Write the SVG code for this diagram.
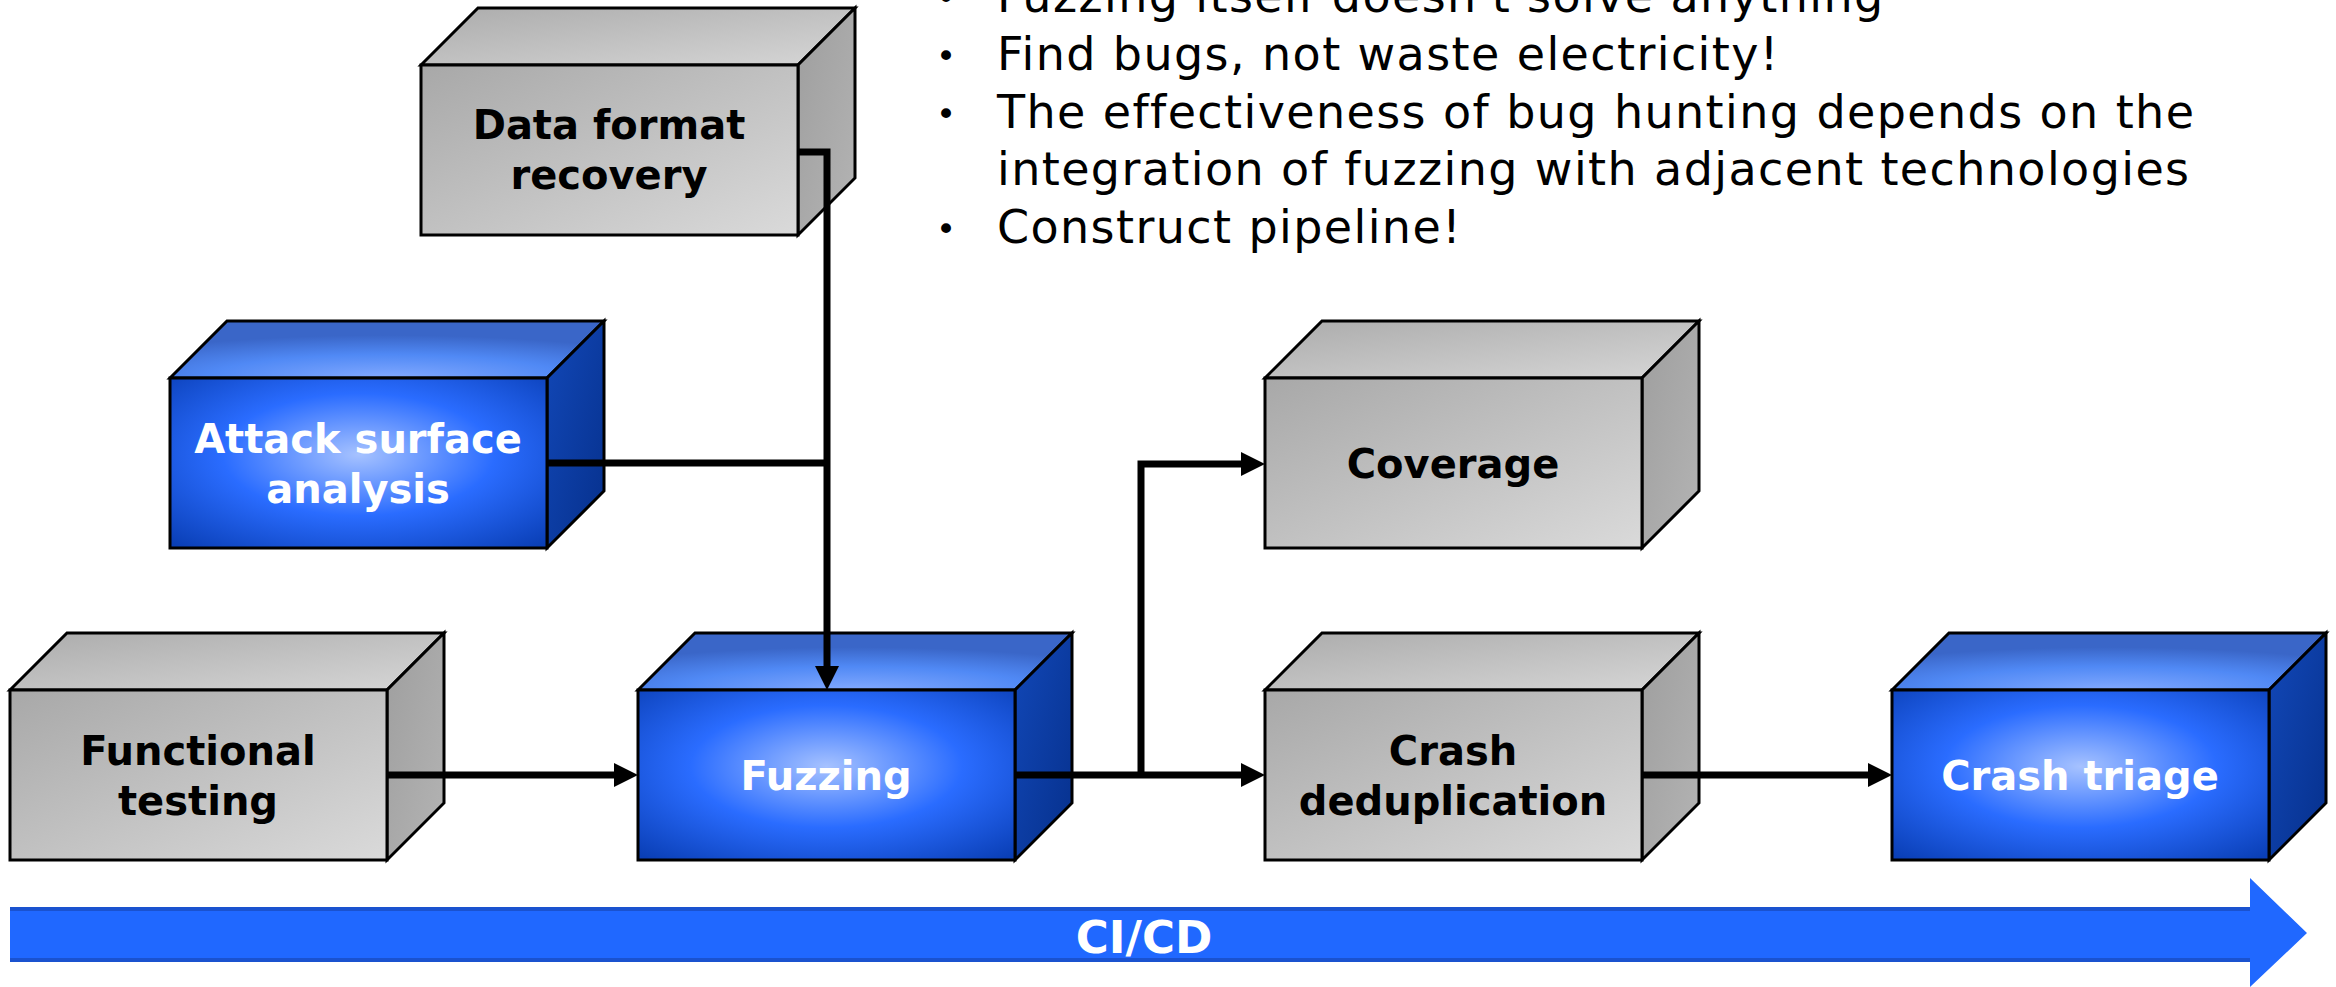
<svg xmlns="http://www.w3.org/2000/svg" width="2336" height="987" viewBox="0 0 2336 987">
<defs>
<linearGradient id="gFront" x1="0" y1="0" x2="1" y2="1"><stop offset="0" stop-color="#a8a8a8"/><stop offset="1" stop-color="#dadada"/></linearGradient>
<linearGradient id="gTop" x1="0" y1="0" x2="1" y2="1"><stop offset="0" stop-color="#acacac"/><stop offset="1" stop-color="#d6d6d6"/></linearGradient>
<linearGradient id="gRight" x1="0" y1="0" x2="1" y2="1"><stop offset="0" stop-color="#9e9e9e"/><stop offset="1" stop-color="#b4b4b4"/></linearGradient>
<radialGradient id="bFront" cx="0.5" cy="0.45" r="0.72"><stop offset="0" stop-color="#a6c2ff"/><stop offset="0.5" stop-color="#2a6cff"/><stop offset="1" stop-color="#0a3fb6"/></radialGradient>
<radialGradient id="bTop" cx="0.5" cy="1" r="0.75"><stop offset="0" stop-color="#82a9ff"/><stop offset="0.55" stop-color="#5089f5"/><stop offset="1" stop-color="#3a66c8"/></radialGradient>
<linearGradient id="bRight" x1="0" y1="0" x2="1" y2="1"><stop offset="0" stop-color="#1248b8"/><stop offset="1" stop-color="#06308c"/></linearGradient>
<marker id="arr" markerUnits="userSpaceOnUse" viewBox="0 0 24 24" markerWidth="24" markerHeight="24" refX="4" refY="12" orient="auto"><path d="M0,0 L24,12 L0,24 Z" fill="#000"/></marker>
</defs>
<style>
.edge{stroke:#000;stroke-width:3;stroke-linejoin:miter}
.gf{fill:url(#gFront)} .gt{fill:url(#gTop)} .gr{fill:url(#gRight)}
.bf{fill:url(#bFront)} .bt{fill:url(#bTop)} .br{fill:url(#bRight)}
.lbl{font-family:"DejaVu Sans","Liberation Sans",sans-serif;font-weight:bold;font-size:40px;text-anchor:middle}
.dark{fill:#000} .light{fill:#fff}
.conn{fill:none;stroke:#000;stroke-width:7}
.bul{font-family:"DejaVu Sans","Liberation Sans",sans-serif;font-size:46px;letter-spacing:1.4px;fill:#000}
.dot{font-family:"DejaVu Sans","Liberation Sans",sans-serif;font-size:34px;fill:#000}
</style>
<rect width="2336" height="987" fill="#fff"/>

<g id="bullets">
<text class="dot" x="936" y="10">•</text><text class="bul" x="997" y="12">Fuzzing itself doesn't solve anything</text>
<text class="dot" x="936" y="68">•</text><text class="bul" x="997" y="70">Find bugs, not waste electricity!</text>
<text class="dot" x="936" y="126">•</text><text class="bul" x="997" y="128">The effectiveness of bug hunting depends on the</text>
<text class="bul" x="997" y="185">integration of fuzzing with adjacent technologies</text>
<text class="dot" x="936" y="241">•</text><text class="bul" x="997" y="243">Construct pipeline!</text>
</g>

<g id="node-data-format-recovery">
<path class="gt edge" d="M421,65 L478,8 L855,8 L798,65 Z"/>
<path class="gr edge" d="M798,65 L855,8 L855,178 L798,235 Z"/>
<rect class="gf edge" x="421" y="65" width="377" height="170"/>
<text class="lbl dark" x="609" y="139">Data format</text>
<text class="lbl dark" x="609" y="189">recovery</text>
</g>

<g id="node-attack-surface-analysis">
<path class="bt edge" d="M170,378 L227,321 L604,321 L547,378 Z"/>
<path class="br edge" d="M547,378 L604,321 L604,491 L547,548 Z"/>
<rect class="bf edge" x="170" y="378" width="377" height="170"/>
<text class="lbl light" x="358" y="453">Attack surface</text>
<text class="lbl light" x="358" y="503">analysis</text>
</g>

<g id="node-functional-testing">
<path class="gt edge" d="M10,690 L67,633 L444,633 L387,690 Z"/>
<path class="gr edge" d="M387,690 L444,633 L444,803 L387,860 Z"/>
<rect class="gf edge" x="10" y="690" width="377" height="170"/>
<text class="lbl dark" x="198" y="765">Functional</text>
<text class="lbl dark" x="198" y="815">testing</text>
</g>

<g id="node-fuzzing">
<path class="bt edge" d="M638,690 L695,633 L1072,633 L1015,690 Z"/>
<path class="br edge" d="M1015,690 L1072,633 L1072,803 L1015,860 Z"/>
<rect class="bf edge" x="638" y="690" width="377" height="170"/>
<text class="lbl light" x="826" y="790">Fuzzing</text>
</g>

<g id="node-coverage">
<path class="gt edge" d="M1265,378 L1322,321 L1699,321 L1642,378 Z"/>
<path class="gr edge" d="M1642,378 L1699,321 L1699,491 L1642,548 Z"/>
<rect class="gf edge" x="1265" y="378" width="377" height="170"/>
<text class="lbl dark" x="1453" y="478">Coverage</text>
</g>

<g id="node-crash-deduplication">
<path class="gt edge" d="M1265,690 L1322,633 L1699,633 L1642,690 Z"/>
<path class="gr edge" d="M1642,690 L1699,633 L1699,803 L1642,860 Z"/>
<rect class="gf edge" x="1265" y="690" width="377" height="170"/>
<text class="lbl dark" x="1453" y="765">Crash</text>
<text class="lbl dark" x="1453" y="815">deduplication</text>
</g>

<g id="node-crash-triage">
<path class="bt edge" d="M1892,690 L1949,633 L2326,633 L2269,690 Z"/>
<path class="br edge" d="M2269,690 L2326,633 L2326,803 L2269,860 Z"/>
<rect class="bf edge" x="1892" y="690" width="377" height="170"/>
<text class="lbl light" x="2080" y="790">Crash triage</text>
</g>

<g id="connectors">
<path class="conn" d="M798,152 H827 V670" marker-end="url(#arr)"/>
<path class="conn" d="M547,463 H827"/>
<path class="conn" d="M387,775 H618" marker-end="url(#arr)"/>
<path class="conn" d="M1015,775 H1245" marker-end="url(#arr)"/>
<path class="conn" d="M1141,778 V464 H1245" marker-end="url(#arr)"/>
<path class="conn" d="M1642,775 H1872" marker-end="url(#arr)"/>
</g>

<g id="cicd">
<path d="M10,907 H2250 V878 L2307,933 L2250,987 V962 H10 Z" fill="#2068ff"/>
<rect x="10" y="907" width="2240" height="4" fill="#1a52cf"/>
<rect x="10" y="958" width="2240" height="4" fill="#1a52cf"/>
<text x="1144" y="953" font-family="DejaVu Sans, Liberation Sans, sans-serif" font-weight="bold" font-size="45" fill="#fff" text-anchor="middle">CI/CD</text>
</g>
</svg>
